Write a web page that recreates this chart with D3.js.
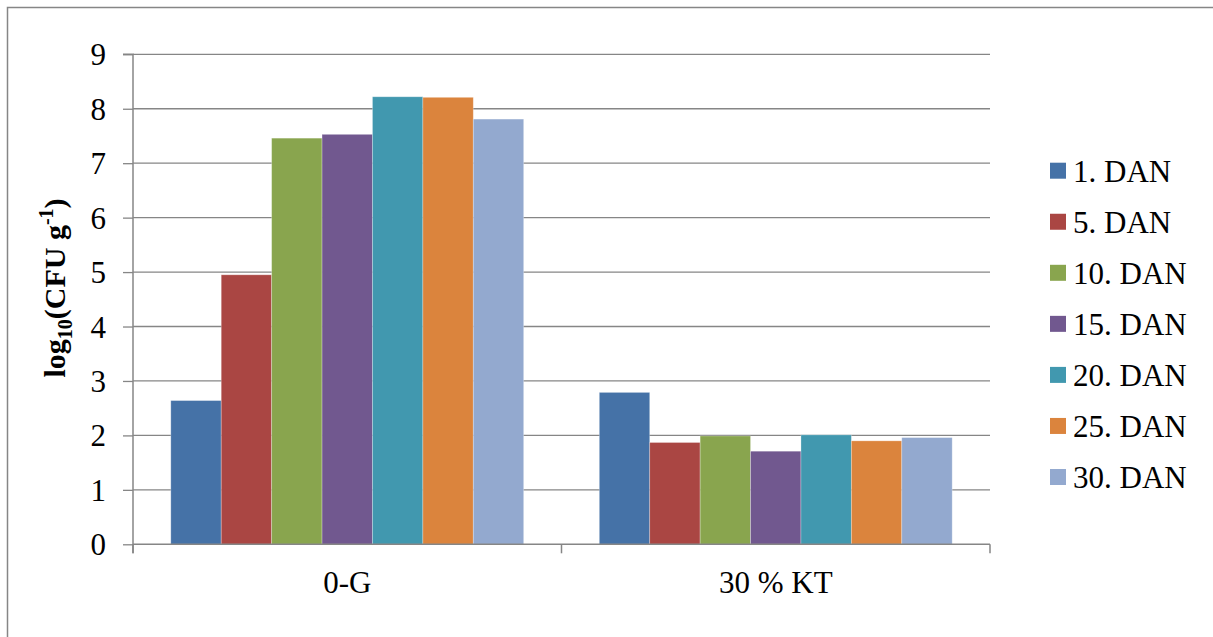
<!DOCTYPE html>
<html><head><meta charset="utf-8">
<script src="https://cdn.jsdelivr.net/npm/d3@7"></script>
<style>body{margin:0;background:#fff}svg{display:block}
svg text{font-family:"Liberation Serif","Tinos","Times New Roman","Times","Noto Serif","DejaVu Serif",serif !important;fill:#000}</style>
</head><body>
<svg id="c" width="1213" height="637"></svg>
<script>
const categories = ["0-G", "30 % KT"];
const seriesNames = ["1. DAN", "5. DAN", "10. DAN", "15. DAN", "20. DAN", "25. DAN", "30. DAN"];
const values0G = [2.64, 4.95, 7.46, 7.53, 8.22, 8.21, 7.81];
const values30KT = [2.79, 1.87, 1.99, 1.71, 2.01, 1.90, 1.96];
const colors = ["#4572A7", "#AA4643", "#89A54E", "#71588F", "#4198AF", "#DB843D", "#93A9CF"];
const yTicks = [0, 1, 2, 3, 4, 5, 6, 7, 8, 9];

const FONT = '"Liberation Serif", Tinos, "Times New Roman", Times, "Noto Serif", "DejaVu Serif", serif';
const valuesByCat = [values0G, values30KT];
const svg = d3.select("#c");
const grey = "#868686";

svg.append("rect").attr("x", 7.5).attr("y", 7.5).attr("width", 1220).attr("height", 650)
  .attr("fill", "none").attr("stroke", grey).attr("stroke-width", 1.5);

const L = 133, R = 990, T = 54.3, B = 544.3;
const y = d3.scaleLinear().domain([0, 9]).range([B, T]);
const x0 = d3.scaleBand().domain(categories).range([L, R]).paddingInner(0).paddingOuter(0);
const bw = x0.bandwidth() / 8.5;
const x1 = d3.scaleBand().domain(seriesNames).range([0, bw * 7]);

svg.append("g").selectAll("line").data(yTicks.filter(d => d > 0)).join("line")
  .attr("x1", L).attr("x2", R).attr("y1", d => y(d)).attr("y2", d => y(d))
  .attr("stroke", grey).attr("stroke-width", 1.3);

const groups = svg.append("g").selectAll("g").data(categories).join("g")
  .attr("transform", d => `translate(${x0(d) + (x0.bandwidth() - bw * 7) / 2},0)`);
groups.selectAll("rect").data((d, i) => valuesByCat[i].map((v, j) => ({v, s: seriesNames[j], c: colors[j]})))
  .join("rect")
  .attr("x", d => x1(d.s)).attr("width", x1.bandwidth())
  .attr("y", d => y(d.v)).attr("height", d => y(0) - y(d.v))
  .attr("fill", d => d.c).attr("stroke", "rgba(255,255,255,0.35)").attr("stroke-width", 0.8);

const yAxis = d3.axisLeft(y).tickValues(yTicks).tickSize(10).tickPadding(17).tickFormat(d3.format("d"));
const ga = svg.append("g").attr("transform", `translate(${L},0)`).call(yAxis).attr("font-family", FONT);
ga.select(".domain").attr("stroke", grey).attr("stroke-width", 1.5).attr("d", `M-10,${T}H0V${B + 9}`);
ga.selectAll(".tick line").attr("stroke", grey).attr("stroke-width", 1.3);
ga.selectAll(".tick text").attr("font-size", 31).attr("font-family", FONT).attr("fill", "#000").attr("dy", "0.34em");

const xAxis = d3.axisBottom(x0).tickSize(0).tickFormat("");
const gx = svg.append("g").attr("transform", `translate(0,${B})`).call(xAxis).attr("font-family", FONT);
gx.select(".domain").attr("stroke", grey).attr("stroke-width", 1.5).attr("d", `M${L},0H${R}`);
gx.selectAll(".tick").remove();
const bounds = [L, L + x0.bandwidth(), R];
gx.selectAll("line.sep").data(bounds).join("line").attr("class", "sep")
  .attr("x1", d => d).attr("x2", d => d).attr("y1", 0).attr("y2", 9)
  .attr("stroke", grey).attr("stroke-width", 1.5);
gx.selectAll("text.cat").data(categories).join("text").attr("class", "cat")
  .attr("x", d => x0(d) + x0.bandwidth() / 2).attr("y", 49)
  .attr("text-anchor", "middle").attr("font-size", 31).attr("font-family", FONT).text(d => d);

const yt = svg.append("text").attr("transform", "translate(65,288) rotate(-90)")
  .attr("text-anchor", "middle").attr("font-size", 30).attr("font-weight", "bold").attr("font-family", FONT);
yt.append("tspan").text("log");
yt.append("tspan").attr("font-size", 20).attr("dy", 7).text("10");
yt.append("tspan").attr("dy", -7).text("(CFU g");
yt.append("tspan").attr("font-size", 20).attr("dy", -12).text("-1");
yt.append("tspan").attr("dy", 12).text(")");

const leg = svg.append("g").attr("font-family", FONT).selectAll("g").data(seriesNames).join("g")
  .attr("transform", (d, i) => `translate(1050,${170.7 + i * 51.05})`);
leg.append("rect").attr("x", 0).attr("y", -8).attr("width", 16).attr("height", 16).attr("fill", (d, i) => colors[i]);
leg.append("text").attr("x", 23).attr("y", 11).attr("font-size", 31).attr("font-family", FONT).text(d => d);
</script>
</body></html>
